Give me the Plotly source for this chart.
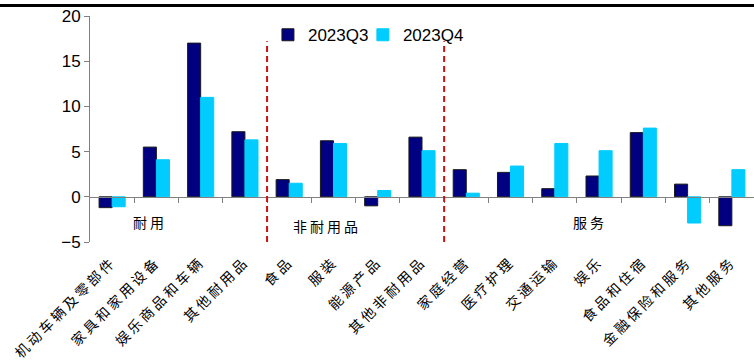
import plotly.graph_objects as go

categories = ["机动车辆及零部件", "家具和家用设备", "娱乐商品和车辆", "其他耐用品",
              "食品", "服装", "能源产品", "其他非耐用品",
              "家庭经营", "医疗护理", "交通运输", "娱乐", "食品和住宿", "金融保险和服务", "其他服务"]
q3 = [-1.2, 5.5, 17.0, 7.2, 1.9, 6.2, -1.0, 6.6, 3.0, 2.7, 0.9, 2.3, 7.1, 1.4, -3.2]
q4 = [-1.1, 4.1, 11.0, 6.3, 1.5, 5.9, 0.7, 5.1, 0.4, 3.4, 5.9, 5.1, 7.6, -2.9, 3.0]
series_names = ["2023Q3", "2023Q4"]
group_labels = ["耐用", "非耐用品", "服务"]
y_ticks = [-5, 0, 5, 10, 15, 20]

NUM_FONT = "Arial, Liberation Sans, sans-serif"
CJK_FONT = "Noto Sans CJK SC, sans-serif"
AXIS_GRAY = "#808080"

idx = list(range(len(categories)))
tick_text = ['<span style="letter-spacing:3px">%s</span>' % c for c in categories]

fig = go.Figure()
fig.add_trace(go.Bar(x=idx, y=q3, name=series_names[0], legend="legend",
                     marker=dict(color="#000080", line=dict(color="#1a1a1a", width=1))))
fig.add_trace(go.Bar(x=idx, y=q4, name=series_names[1], legend="legend2",
                     marker=dict(color="#00CCFF", line=dict(color="#00CCFF", width=1))))
# invisible trace to host the zero-line axis
fig.add_trace(go.Scatter(x=[0], y=[0], xaxis="x2", mode="markers",
                         marker=dict(opacity=0), showlegend=False, hoverinfo="skip"))

n = len(categories)
legend_common = dict(orientation="h", y=0.915, xanchor="left", yanchor="middle",
                     font=dict(family=NUM_FONT, size=17, color="black"),
                     bgcolor="rgba(0,0,0,0)", itemwidth=30)
fig.update_layout(
    width=754, height=361,
    margin=dict(l=90, r=0, t=16, b=119, autoexpand=False),
    paper_bgcolor="white", plot_bgcolor="white",
    barmode="group", bargap=0.41, bargroupgap=0,
    showlegend=True,
    legend=dict(x=0.268, **legend_common),
    legend2=dict(x=0.411, **legend_common),
    xaxis=dict(range=[-0.5, n - 0.5], tickmode="array", tickvals=idx, ticktext=tick_text,
               tickangle=-45, showline=False, ticks="", showgrid=False, zeroline=False,
               ticklabelstandoff=8, automargin=False,
               tickfont=dict(family=CJK_FONT, size=14, color="black")),
    xaxis2=dict(range=[-0.5, n - 0.5], overlaying="x", anchor="free", position=0.2,
                side="bottom", showline=True, linecolor=AXIS_GRAY, linewidth=1,
                tickmode="array", tickvals=[i + 0.5 for i in idx[:-1]],
                ticks="outside", ticklen=5, tickcolor=AXIS_GRAY, tickwidth=1,
                showticklabels=False, showgrid=False, zeroline=False, automargin=False),
    yaxis=dict(range=[-5, 20], tickmode="array", tickvals=y_ticks,
               showline=True, linecolor=AXIS_GRAY, linewidth=1,
               ticks="outside", ticklen=5, tickcolor=AXIS_GRAY,
               showgrid=False, zeroline=False, automargin=False,
               tickfont=dict(family=NUM_FONT, size=17, color="black")),
)

# dashed separators between groups
for xb in [3.5, 7.5]:
    fig.add_shape(type="line", xref="x", yref="y", x0=xb, x1=xb, y0=-5, y1=17.2,
                  line=dict(color="#CC1111", width=2, dash="6px,4px"))

# group labels
group_pos = [(0.85, -2.8), (4.85, -3.2), (10.8, -2.8)]
for txt, (gx, gy) in zip(group_labels, group_pos):
    fig.add_annotation(x=gx, y=gy, xref="x", yref="y",
                       text='<span style="letter-spacing:3px">%s</span>' % txt, showarrow=False,
                       font=dict(family=CJK_FONT, size=14, color="black"))

# top border line
fig.add_shape(type="line", xref="paper", yref="paper", x0=-90 / 664, x1=1,
              y0=(242 - 5.5) / 226, y1=(242 - 5.5) / 226,
              line=dict(color="black", width=3))

fig.write_html("out.html")
